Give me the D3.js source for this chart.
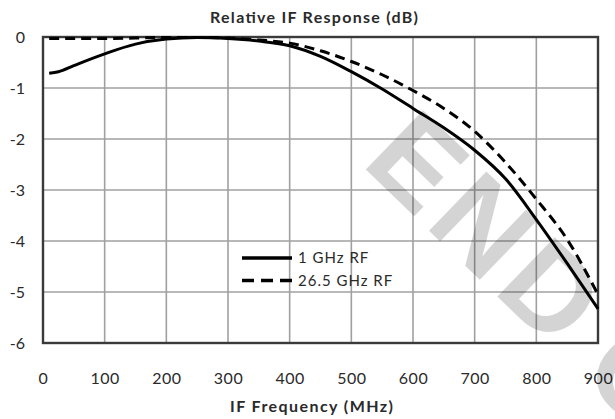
<!DOCTYPE html>
<html>
<head>
<meta charset="utf-8">
<script src="https://cdn.jsdelivr.net/npm/d3@7"></script>
<style>
    html, body { margin: 0; padding: 0; background: #ffffff; }
    svg { display: block; }
</style>
</head>
<body>
<div id="chart"></div>
<script>
(function () {
    "use strict";

    // IF frequency (MHz) sample points
    const freqs = [10, 25, 50, 100, 150, 200, 250, 300, 350, 400, 450, 500, 550, 600, 650, 700, 750, 800, 850, 900];
    // relative response (dB)
    const rf1GHz = [-0.71, -0.68, -0.56, -0.33, -0.14, -0.04, -0.01, -0.03, -0.08, -0.17, -0.38, -0.68, -1.02, -1.4, -1.78, -2.22, -2.78, -3.58, -4.44, -5.33];
    const rf26GHz = [-0.03, -0.03, -0.03, -0.03, -0.02, -0.01, -0.01, -0.02, -0.06, -0.12, -0.27, -0.48, -0.74, -1.05, -1.4, -1.85, -2.46, -3.18, -3.97, -5.05];

    const xTicks = [0, 100, 200, 300, 400, 500, 600, 700, 800, 900];
    const yTicks = [0, -1, -2, -3, -4, -5, -6];
    const seriesNames = ["1 GHz RF", "26.5 GHz RF"];

    const width = 615;
    const height = 419;
    const font = "Lato, 'Open Sans', sans-serif";
    const ink = "#2a2a2a";

    const x = d3.scaleLinear().domain([0, 900]).range([43, 598]);
    const y = d3.scaleLinear().domain([-6, 0]).range([343, 37]);

    const svg = d3.select("#chart")
        .append("svg")
        .attr("width", width)
        .attr("height", height)
        .style("font-family", font);

    // grid
    const grid = svg.append("g")
        .attr("stroke", "#a0a0a0")
        .attr("stroke-width", 1.6);

    grid.selectAll("line.v")
        .data(xTicks.slice(1, -1))
        .join("line")
        .attr("class", "v")
        .attr("x1", (d) => x(d))
        .attr("x2", (d) => x(d))
        .attr("y1", y(0))
        .attr("y2", y(-6));

    grid.selectAll("line.h")
        .data(yTicks.slice(1, -1))
        .join("line")
        .attr("class", "h")
        .attr("x1", x(0))
        .attr("x2", x(900))
        .attr("y1", (d) => y(d))
        .attr("y2", (d) => y(d));

    // frame
    svg.append("rect")
        .attr("x", x(0))
        .attr("y", y(0))
        .attr("width", x(900) - x(0))
        .attr("height", y(-6) - y(0))
        .attr("fill", "none")
        .attr("stroke", "#3a3a3a")
        .attr("stroke-width", 2.4);

    // axes (labels only, lines drawn by the frame)
    const xAxis = svg.append("g")
        .attr("transform", `translate(0,${y(-6) + 41})`)
        .call(d3.axisBottom(x).tickValues(xTicks).tickSize(0).tickPadding(0));
    xAxis.select(".domain").remove();
    xAxis.selectAll("text")
        .attr("dy", "0")
        .style("font-family", font)
        .style("font-size", "16px")
        .style("letter-spacing", "0.5px")
        .attr("fill", ink);

    const yAxis = svg.append("g")
        .attr("transform", `translate(${x(0) - 18},0)`)
        .call(d3.axisLeft(y).tickValues(yTicks).tickSize(0).tickPadding(0).tickFormat((d) => String(d)));
    yAxis.select(".domain").remove();
    yAxis.selectAll("text")
        .attr("dy", "0.35em")
        .style("font-family", font)
        .style("font-size", "16px")
        .attr("fill", ink);

    // curves
    const line = d3.line()
        .x((d) => x(d[0]))
        .y((d) => y(d[1]))
        .curve(d3.curveMonotoneX);

    const series = [
        { name: seriesNames[0], values: freqs.map((f, i) => [f, rf1GHz[i]]), dash: null },
        { name: seriesNames[1], values: freqs.map((f, i) => [f, rf26GHz[i]]), dash: "10,6" }
    ];

    svg.append("g")
        .selectAll("path")
        .data(series)
        .join("path")
        .attr("d", (d) => line(d.values))
        .attr("fill", "none")
        .attr("stroke", "#000000")
        .attr("stroke-width", 3)
        .attr("stroke-dasharray", (d) => d.dash);

    // legend
    const legend = svg.append("g")
        .attr("transform", "translate(242,258)");

    const item = legend.selectAll("g")
        .data(series)
        .join("g")
        .attr("transform", (d, i) => `translate(0,${i * 22.5})`);

    item.append("line")
        .attr("x1", 0)
        .attr("x2", 50)
        .attr("stroke", "#000000")
        .attr("stroke-width", 3.5)
        .attr("stroke-dasharray", (d) => d.dash ? "12,7" : null);

    item.append("text")
        .attr("x", 56)
        .attr("dy", "0.35em")
        .style("font-size", "15px")
        .style("letter-spacing", "1px")
        .attr("fill", ink)
        .text((d) => d.name);

    // titles
    svg.append("text")
        .attr("x", 210)
        .attr("y", 23)
        .attr("textLength", 208)
        .attr("lengthAdjust", "spacing")
        .style("font-size", "16px")
        .style("font-weight", "700")
        .attr("fill", ink)
        .text("Relative IF Response (dB)");

    svg.append("text")
        .attr("x", 230)
        .attr("y", 412)
        .attr("textLength", 163)
        .attr("lengthAdjust", "spacing")
        .style("font-size", "16px")
        .style("font-weight", "700")
        .attr("fill", ink)
        .text("IF Frequency (MHz)");

    // watermark
    const mark = svg.append("text")
        .attr("transform", "translate(360,164) rotate(44)")
        .style("font-family", "'Liberation Sans', Arial, sans-serif")
        .style("font-size", "120px")
        .style("font-weight", "700")
        .style("letter-spacing", "8px")
        .attr("fill", "#000000")
        .attr("fill-opacity", 0.17);
    mark.append("tspan").text("END");
    mark.append("tspan").attr("dx", 26).text("O");
})();
</script>
</body>
</html>
